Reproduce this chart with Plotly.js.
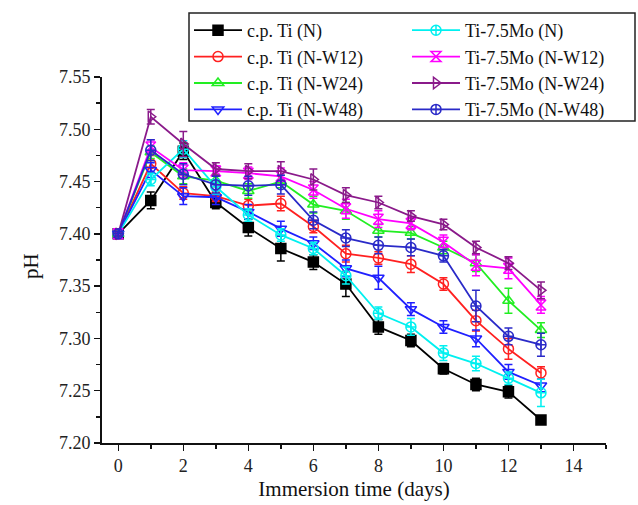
<!DOCTYPE html>
<html>
<head>
<meta charset="utf-8">
<script src="https://cdn.plot.ly/plotly-3.0.1.min.js"></script>
<style>
  html, body { margin: 0; padding: 0; background: #fff; }
  #chart { width: 638px; height: 505px; }
</style>
</head>
<body>
<div id="chart"></div>
<script>
// ---- data ----
const days = [0, 1, 2, 3, 4, 5, 6, 7, 8, 9, 10, 11, 12, 13];

const cpN    = [7.400, 7.432, 7.479, 7.430, 7.406, 7.386, 7.373, 7.352, 7.311, 7.298, 7.271, 7.256, 7.249, 7.222];
const cpW12  = [7.400, 7.467, 7.439, 7.436, 7.427, 7.429, 7.407, 7.381, 7.377, 7.371, 7.352, 7.317, 7.290, 7.267];
const cpW24  = [7.400, 7.478, 7.455, 7.451, 7.441, 7.450, 7.428, 7.422, 7.403, 7.401, 7.387, 7.372, 7.336, 7.308];
const cpW48  = [7.400, 7.461, 7.436, 7.435, 7.421, 7.405, 7.391, 7.367, 7.358, 7.328, 7.311, 7.300, 7.268, 7.255];
const moN    = [7.400, 7.452, 7.481, 7.445, 7.418, 7.399, 7.386, 7.360, 7.324, 7.311, 7.286, 7.276, 7.262, 7.248];
const moW12  = [7.400, 7.483, 7.461, 7.460, 7.458, 7.455, 7.442, 7.424, 7.414, 7.410, 7.392, 7.370, 7.367, 7.332];
const moW24  = [7.400, 7.512, 7.486, 7.462, 7.460, 7.460, 7.452, 7.437, 7.430, 7.417, 7.409, 7.387, 7.372, 7.346];
const moW48  = [7.400, 7.480, 7.457, 7.447, 7.446, 7.447, 7.413, 7.396, 7.389, 7.387, 7.379, 7.331, 7.302, 7.294];

const cpNErr   = [0.002, 0.008, 0.008, 0.006, 0.008, 0.012, 0.007, 0.012, 0.007, 0.006, 0.005, 0.006, 0.006, 0.004];
const cpW12Err = [0.002, 0.008, 0.006, 0.005, 0.006, 0.007, 0.006, 0.008, 0.006, 0.008, 0.006, 0.010, 0.010, 0.006];
const cpW24Err = [0.002, 0.006, 0.007, 0.006, 0.007, 0.006, 0.008, 0.008, 0.006, 0.006, 0.006, 0.008, 0.012, 0.007];
const cpW48Err = [0.002, 0.007, 0.008, 0.007, 0.007, 0.007, 0.006, 0.008, 0.011, 0.006, 0.006, 0.008, 0.007, 0.006];
const moNErr   = [0.002, 0.006, 0.008, 0.007, 0.006, 0.006, 0.006, 0.008, 0.006, 0.008, 0.007, 0.007, 0.006, 0.013];
const moW12Err = [0.002, 0.007, 0.007, 0.005, 0.006, 0.008, 0.008, 0.009, 0.008, 0.006, 0.007, 0.010, 0.010, 0.008];
const moW24Err = [0.002, 0.007, 0.012, 0.006, 0.007, 0.009, 0.010, 0.007, 0.006, 0.005, 0.005, 0.006, 0.006, 0.008];
const moW48Err = [0.002, 0.010, 0.010, 0.008, 0.009, 0.009, 0.008, 0.008, 0.008, 0.008, 0.006, 0.015, 0.008, 0.011];

const seriesNames = [
  'c.p. Ti (N)', 'c.p. Ti (N-W12)', 'c.p. Ti (N-W24)', 'c.p. Ti (N-W48)',
  'Ti-7.5Mo (N)', 'Ti-7.5Mo (N-W12)', 'Ti-7.5Mo (N-W24)', 'Ti-7.5Mo (N-W48)'
];
const xTickVals = [0, 2, 4, 6, 8, 10, 12, 14];
const yTickVals = [7.20, 7.25, 7.30, 7.35, 7.40, 7.45, 7.50, 7.55];
const xTitle = 'Immersion time (days)';
const yTitle = 'pH';

// ---- styling ----
const W = 638, H = 505;
const PL = 102, PR = 606, PT = 77, PB = 443;
const FONT = 'Liberation Serif, Times New Roman, serif';

const defs = [
  {y: cpN,   e: cpNErr,   c: '#000000', s: 'square',             lg: 'legend'},
  {y: cpW12, e: cpW12Err, c: '#ff2020', s: 'circle-open',        lg: 'legend'},
  {y: cpW24, e: cpW24Err, c: '#22ee22', s: 'triangle-up-open',   lg: 'legend'},
  {y: cpW48, e: cpW48Err, c: '#2020ff', s: 'triangle-down-open', lg: 'legend'},
  {y: moN,   e: moNErr,   c: '#00f0f0', s: 'circle-cross-open',  lg: 'legend2'},
  {y: moW12, e: moW12Err, c: '#ff00ff', s: 'hourglass-open',     lg: 'legend2'},
  {y: moW24, e: moW24Err, c: '#8a1a8a', s: 'triangle-right-open',lg: 'legend2'},
  {y: moW48, e: moW48Err, c: '#2a2ac8', s: 'circle-cross-open',  lg: 'legend2'}
];

const traces = defs.map((d, i) => ({
  type: 'scatter',
  mode: 'lines+markers',
  x: days,
  y: d.y,
  name: seriesNames[i],
  legend: d.lg,
  line: {color: d.c, width: 1.8},
  marker: {symbol: d.s, size: 10, color: d.c, line: {color: d.c, width: 1.5}},
  error_y: {type: 'data', array: d.e, visible: true, color: d.c, thickness: 1.5, width: 4}
}));

const px2paperX = p => (p - PL) / (PR - PL);
const px2paperY = p => (PB - p) / (PB - PT);

const legendCommon = {
  xref: 'container', yref: 'container',
  xanchor: 'left', yanchor: 'top',
  bgcolor: 'rgba(0,0,0,0)', borderwidth: 0,
  font: {family: FONT, size: 18, color: '#111'},
  tracegroupgap: 0,
  itemwidth: 48
};

const layout = {
  width: W, height: H,
  margin: {l: PL, r: W - PR, t: PT, b: H - PB, pad: 0, autoexpand: false},
  paper_bgcolor: '#fff', plot_bgcolor: '#fff',
  font: {family: FONT, color: '#111'},
  showlegend: true,
  legend: Object.assign({}, legendCommon, {x: 189 / W, y: 1 - 12 / H}),
  legend2: Object.assign({}, legendCommon, {x: 407 / W, y: 1 - 12 / H}),
  xaxis: {
    range: [-0.5, 15],
    tickvals: xTickVals,
    ticks: 'outside', ticklen: 6, tickwidth: 1.5, tickcolor: '#111',
    minor: {dtick: 1, tick0: 0, ticks: 'outside', ticklen: 4, tickwidth: 1.5, tickcolor: '#111'},
    showline: true, linecolor: '#111', linewidth: 1.8,
    showgrid: false, zeroline: false,
    tickfont: {family: FONT, size: 18, color: '#222'},
    title: {text: xTitle, font: {family: FONT, size: 21, color: '#111'}, standoff: 6}
  },
  yaxis: {
    range: [7.20, 7.55],
    tickvals: yTickVals,
    tickformat: '.2f',
    ticks: 'outside', ticklen: 6, tickwidth: 1.5, tickcolor: '#111',
    minor: {dtick: 0.025, tick0: 7.2, ticks: 'outside', ticklen: 4, tickwidth: 1.5, tickcolor: '#111'},
    showline: true, linecolor: '#111', linewidth: 1.8,
    showgrid: false, zeroline: false,
    tickfont: {family: FONT, size: 18, color: '#222'}
  },
  annotations: [{
    text: yTitle, textangle: -90,
    xref: 'paper', yref: 'paper',
    x: px2paperX(31), y: px2paperY(266),
    xanchor: 'center', yanchor: 'middle',
    showarrow: false,
    font: {family: FONT, size: 21, color: '#111'}
  }],
  shapes: [{
    type: 'rect', xref: 'paper', yref: 'paper',
    x0: px2paperX(189), x1: px2paperX(635),
    y0: px2paperY(121), y1: px2paperY(13),
    line: {color: '#222', width: 1.5}, fillcolor: 'rgba(255,255,255,1)', layer: 'below'
  }]
};

Plotly.newPlot('chart', traces, layout, {displayModeBar: false, staticPlot: true});
</script>
</body>
</html>
